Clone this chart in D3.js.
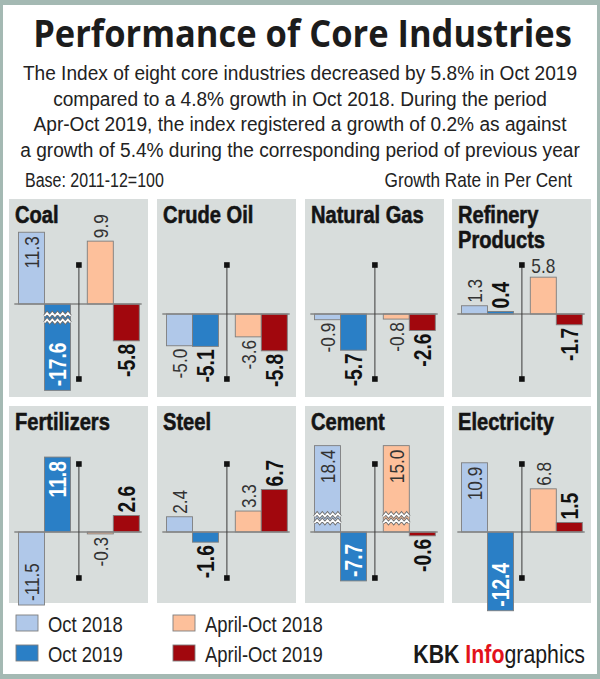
<!DOCTYPE html>
<html>
<head>
<meta charset="utf-8">
<script src="https://cdn.jsdelivr.net/npm/d3@7"></script>
<style>
  html, body { margin: 0; padding: 0; background: #fff; }
  svg { display: block; }
</style>
</head>
<body>
<svg id="chart" width="600" height="679"></svg>
<script>
// ---------------- DATA ----------------
const categories = ["Coal", "Crude Oil", "Natural Gas", "Refinery Products",
                    "Fertilizers", "Steel", "Cement", "Electricity"];
const seriesNames = ["Oct 2018", "Oct 2019", "April-Oct 2018", "April-Oct 2019"];
const oct2018    = [11.3, -5.0, -0.9, 1.3, -11.5,  2.4, 18.4, 10.9];
const oct2019    = [-17.6, -5.1, -5.7, 0.4, 11.8, -1.6, -7.7, -12.4];
const aprOct2018 = [9.9, -3.6, -0.8, 5.8, -0.3, 3.3, 15.0, 6.8];
const aprOct2019 = [-5.8, -5.8, -2.6, -1.7, 2.6, 6.7, -0.6, 1.5];
const periods = ["Oct", "April-Oct"];
const titleText = "Performance of Core Industries";
const subtitleLines = [
  "The Index of eight core industries decreased by 5.8% in Oct 2019",
  "compared to a 4.8% growth in Oct 2018. During the period",
  "Apr-Oct 2019, the index registered a growth of 0.2% as against",
  "a growth of 5.4% during the corresponding period of previous year"
];
const baseNote = "Base: 2011-12=100";
const unitNote = "Growth Rate in Per Cent";
const breakLimit = 13.6; // bars beyond this magnitude are drawn with a break

// ---------------- STYLE / LAYOUT ----------------
const seriesValues = [oct2018, oct2019, aprOct2018, aprOct2019];
const colors = ["#b0c8e9", "#2a7fc6", "#fdc09b", "#a1070d"];
const darkSeries = [false, true, false, true];
const sans = "'Liberation Sans', Arial, sans-serif";
const NS = 0.82; // horizontal condensation
const frameColor = "#a4b9b3";
const panelBg = "#d8dddc";
const colX = [9, 157, 305, 452];
const rowY = [199, 406];
const panelW = 139;
const panelH = [198, 197];
const zeroOff = [105, 115, 115, 115, 126, 126, 126, 126];
const sepTop = [66, 58], sepBot = [180, 172];
const pxPerUnit = 6.35;

const svg = d3.select("#chart");
svg.append("rect").attr("width", 600).attr("height", 679).attr("fill", "#fff");

// condensed text helper
function ctext(parent, x, y, size, weight, fill, anchor, str, k = NS) {
  return parent.append("text")
    .attr("transform", `translate(${x},${y}) scale(${k},1)`)
    .attr("font-family", sans).attr("font-size", size).attr("font-weight", weight)
    .attr("fill", fill).attr("text-anchor", anchor || "start")
    .text(str);
}

// Frame
svg.append("rect").attr("x", 0).attr("y", 0).attr("width", 600).attr("height", 5).attr("fill", frameColor);
svg.append("rect").attr("x", 0).attr("y", 674).attr("width", 600).attr("height", 5).attr("fill", frameColor);
svg.append("rect").attr("x", 0).attr("y", 0).attr("width", 3).attr("height", 679).attr("fill", frameColor);
svg.append("rect").attr("x", 597).attr("y", 0).attr("width", 3).attr("height", 679).attr("fill", frameColor);

// Title (condensed to fit)
const title = svg.append("text")
  .attr("font-family", "'Open Sans', 'Noto Sans', sans-serif")
  .attr("font-weight", 700).attr("font-size", 37).attr("fill", "#1c1c1c")
  .attr("text-anchor", "middle")
  .text(titleText);
const tk = 539 / title.node().getComputedTextLength();
title.attr("transform", `translate(302.5,47) scale(${tk},1)`);

// Subtitle (condensed uniformly)
const subG = svg.append("g");
const subTexts = subG.selectAll("text").data(subtitleLines).join("text")
  .attr("x", 0).attr("y", (d, i) => 80 + i * 25.6)
  .attr("text-anchor", "middle")
  .attr("font-family", sans)
  .attr("font-size", 21).attr("fill", "#222")
  .text(d => d);
const widest = d3.max(subTexts.nodes(), n => n.getComputedTextLength());
const k = 560 / widest;
subG.attr("transform", `translate(300,0) scale(${k},1)`);

ctext(svg, 25, 187, 19.5, 400, "#222", "start", baseNote);
ctext(svg, 572, 187, 21, 400, "#222", "end", unitNote);

// ---------------- PANELS ----------------
categories.forEach((cat, i) => {
  const row = Math.floor(i / 4), col = i % 4;
  const g = svg.append("g").attr("transform", `translate(${colX[col]},${rowY[row]})`);
  g.append("rect").attr("width", panelW).attr("height", panelH[row]).attr("fill", panelBg);

  const z = zeroOff[i];
  const y = d3.scaleLinear().domain([-20, 20]).range([z + 20 * pxPerUnit, z - 20 * pxPerUnit]);
  const xGroup = d3.scaleBand().domain(periods).range([9.5, 130.3]).paddingInner(0.244).paddingOuter(0);
  const xSeries = d3.scaleBand().domain([0, 1]).range([0, xGroup.bandwidth()]);

  // Panel title (wrap if too wide)
  const tt = ctext(g, 6, 24, 24.5, 700, "#141414", "start", "")
    .attr("stroke", "#141414").attr("stroke-width", 0.6);
  const words = cat.split(" ");
  let line = [], lineNo = 0;
  let tspan = tt.append("tspan").attr("x", 0).attr("y", 0);
  words.forEach(w => {
    line.push(w);
    tspan.text(line.join(" "));
    if (tspan.node().getComputedTextLength() * NS > panelW - 12 && line.length > 1) {
      line.pop();
      tspan.text(line.join(" "));
      line = [w];
      lineNo++;
      tspan = tt.append("tspan").attr("x", 0).attr("y", lineNo * 24.7).text(w);
    }
  });
  const bb = tt.node().getBBox();
  const tb = { x: 6 + bb.x * NS, y: 24 + bb.y, width: bb.width * NS, height: bb.height };

  const bars = seriesValues.map((arr, s) => {
    const v = arr[i];
    const dv = Math.sign(v) * Math.min(Math.abs(v), breakLimit);
    const x0 = xGroup(periods[Math.floor(s / 2)]) + xSeries(s % 2);
    return { v, dv, s, x0, w: xSeries.bandwidth(), broken: Math.abs(v) > breakLimit };
  });

  g.selectAll("rect.bar").data(bars).join("rect").attr("class", "bar")
    .attr("x", d => d.x0).attr("width", d => d.w)
    .attr("y", d => Math.min(y(0), y(d.dv)))
    .attr("height", d => Math.abs(y(d.dv) - y(0)))
    .attr("fill", d => colors[d.s])
    .attr("stroke", "#7e7e7e").attr("stroke-width", 0.9);

  // break marks
  bars.filter(d => d.broken).forEach(d => {
    const dir = d.v < 0 ? 1 : -1;
    [10.5, 17].forEach(off => {
      const yy = y(0) + dir * off;
      const pts = [];
      for (let xx = d.x0, j = 0; xx <= d.x0 + d.w + 0.01; xx += 2.6, j++) {
        pts.push([xx, yy + (j % 2 ? -1.6 : 1.6)]);
      }
      const path = d3.line()(pts);
      g.append("path").attr("d", path).attr("fill", "none").attr("stroke", "#6f6f6f").attr("stroke-width", 3.2);
      g.append("path").attr("d", path).attr("fill", "none").attr("stroke", "#fff").attr("stroke-width", 1.6);
    });
  });

  // zero line
  g.append("line").attr("x1", 5.3).attr("x2", 132.7).attr("y1", y(0)).attr("y2", y(0))
    .attr("stroke", "#858585").attr("stroke-width", 1.3);

  // separator
  const sx = xGroup(periods[0]) + xGroup.bandwidth() + (xGroup(periods[1]) - xGroup(periods[0]) - xGroup.bandwidth()) / 2;
  g.append("line").attr("x1", sx).attr("x2", sx).attr("y1", sepTop[row]).attr("y2", sepBot[row])
    .attr("stroke", "#3a3a3a").attr("stroke-width", 1);
  [sepTop[row], sepBot[row]].forEach(yy => {
    g.append("rect").attr("x", sx - 2.8).attr("y", yy - 2.8).attr("width", 5.6).attr("height", 5.6).attr("fill", "#111");
  });

  // labels
  bars.forEach(d => {
    const dark = darkSeries[d.s];
    const inside = Math.abs(d.v) >= (dark ? 7 : 10);
    const cx = d.x0 + d.w / 2;
    const end = y(d.dv);
    const fill = inside && dark ? "#fff" : (dark ? "#111" : "#333");
    const t = g.append("text")
      .attr("font-family", sans)
      .attr("font-weight", dark ? 700 : 400)
      .attr("font-size", dark ? 23.5 : 21)
      .attr("fill", fill)
      .text(d.v.toFixed(1));
    let yPos, anchor;
    if (d.v >= 0) {
      if (inside) { yPos = end + 4; anchor = "end"; } else { yPos = end - 3; anchor = "start"; }
    } else {
      if (inside) { yPos = end - 4; anchor = "start"; } else { yPos = end + 3; anchor = "end"; }
    }
    const L = t.node().getComputedTextLength() * NS;
    const labelTop = anchor === "start" ? yPos - L : yPos;
    const collides = d.v >= 0 && !inside && labelTop < tb.y + tb.height + 2 &&
      cx + 9 > tb.x && cx - 9 < tb.x + tb.width;
    if (collides) {
      t.attr("text-anchor", "middle")
        .attr("transform", `translate(${cx},${end - 4}) scale(${NS},1)`);
    } else {
      t.attr("text-anchor", anchor).attr("dy", "0.35em")
        .attr("transform", `translate(${cx},${yPos}) rotate(-90) scale(${NS},1)`);
    }
  });
});

// ---------------- LEGEND ----------------
const legendPos = [[16, 615], [16, 645], [173, 615], [173, 645]];
const lg = svg.selectAll("g.leg").data(seriesNames).join("g").attr("class", "leg")
  .attr("transform", (d, i) => `translate(${legendPos[i][0]},${legendPos[i][1]})`);
lg.append("rect").attr("width", 22).attr("height", 16)
  .attr("fill", (d, i) => colors[i]).attr("stroke", "#7e7e7e").attr("stroke-width", 0.9);
lg.each(function (d) { ctext(d3.select(this), 32, 16.5, 22.5, 400, "#222", "start", d); });

// Credit
const credit = ctext(svg, 585, 663, 26, 400, "#1a1a1a", "end", "");
credit.append("tspan").attr("font-weight", 700).attr("fill", "#1a1a1a").text("KBK ");
credit.append("tspan").attr("font-weight", 700).attr("fill", "#e3121b").text("Info");
credit.append("tspan").attr("font-weight", 400).attr("fill", "#1a1a1a").text("graphics");
</script>
</body>
</html>
